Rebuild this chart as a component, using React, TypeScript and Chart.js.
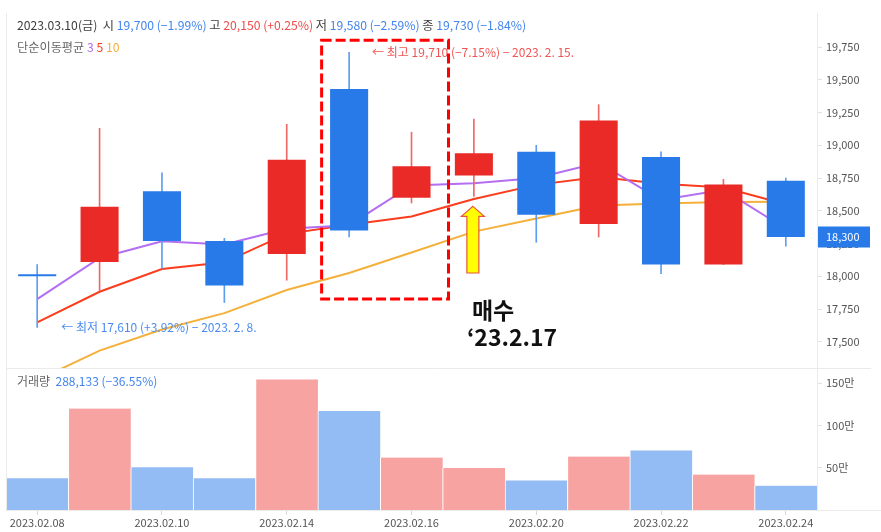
import React, { useEffect, useRef } from 'react';
import { Chart, registerables } from 'chart.js';

Chart.register(...registerables);

const FONT = "'Noto Sans CJK KR', 'Noto Sans', sans-serif";

const DATES = [
  '2023.02.08', '2023.02.09', '2023.02.10', '2023.02.13', '2023.02.14', '2023.02.15', '2023.02.16',
  '2023.02.17', '2023.02.20', '2023.02.21', '2023.02.22', '2023.02.23', '2023.02.24',
];
const OPEN = [18000, 18110, 18650, 18270, 18170, 19430, 18600, 18770, 18950, 18400, 18910, 18090, 18730];
const HIGH = [18090, 19130, 18790, 18290, 19160, 19710, 19100, 19200, 19000, 19310, 18950, 18740, 18750];
const LOW = [17610, 17890, 18060, 17800, 17970, 18300, 18560, 18610, 18260, 18300, 18020, 18090, 18230];
const CLOSE = [18000, 18530, 18270, 17930, 18890, 18350, 18840, 18940, 18470, 19190, 18090, 18700, 18300];
const MA3 = [17826, 18140, 18267, 18243, 18363, 18390, 18693, 18710, 18750, 18867, 18583, 18660, 18363];
const MA5 = [17648, 17882, 18056, 18107, 18324, 18394, 18456, 18590, 18698, 18758, 18706, 18678, 18550];
const MA10 = [17207, 17433, 17594, 17719, 17895, 18025, 18182, 18341, 18442, 18541, 18555, 18568, 18570];
const VOLUME = [375000, 1200000, 505000, 375000, 1545000, 1170000, 620000, 496000, 350000, 633000, 705000, 420000, 288133];
const PRICE_TICKS = [17500, 17750, 18000, 18250, 18500, 18750, 19000, 19250, 19500, 19750];
const VOLUME_TICKS = [500000, 1000000, 1500000];

const RED = '#ea2a26';
const BLUE = '#287ae8';
const RED_WICK = '#ef6868';
const BLUE_WICK = '#5e9def';
const RED_VOL = '#f6a3a2';
const BLUE_VOL = '#93bbf4';
const TXT_BLUE = '#4485ec';
const TXT_RED = '#ee4a4a';
const TXT_DARK = '#3c3c3c';
const TXT_GREY = '#666666';

const isUp = CLOSE.map((c, i) => c > OPEN[i]);

function segs(ctx: CanvasRenderingContext2D, x: number, y: number, parts: [string, string][]) {
  let cx = x;
  for (const [t, c] of parts) {
    ctx.fillStyle = c;
    ctx.fillText(t, cx, y);
    cx += ctx.measureText(t).width;
  }
}

const overlay = {
  id: 'overlay',
  afterDraw(chart: any) {
    const { ctx, scales } = chart;
    const xs = scales.x;
    const ys = scales.y;
    const yv = scales.yv;
    ctx.save();
    // frame lines
    ctx.strokeStyle = '#ebebeb';
    ctx.lineWidth = 1;
    ctx.beginPath();
    ctx.moveTo(6.5, ys.top);
    ctx.lineTo(6.5, yv.bottom);
    ctx.moveTo(6, Math.round(ys.bottom) + 0.5);
    ctx.lineTo(871, Math.round(ys.bottom) + 0.5);
    ctx.moveTo(xs.right, Math.round(yv.bottom) + 0.5);
    ctx.lineTo(881, Math.round(yv.bottom) + 0.5);
    ctx.stroke();

    ctx.textBaseline = 'middle';
    ctx.textAlign = 'left';
    // header
    ctx.font = `12.2px ${FONT}`;
    segs(ctx, 17, 25, [
      ['2023.03.10(금)  ', TXT_DARK],
      ['시 ', TXT_DARK],
      ['19,700 (−1.99%) ', TXT_BLUE],
      ['고 ', TXT_DARK],
      ['20,150 (+0.25%) ', TXT_RED],
      ['저 ', TXT_DARK],
      ['19,580 (−2.59%) ', TXT_BLUE],
      ['종 ', TXT_DARK],
      ['19,730 (−1.84%)', TXT_BLUE],
    ]);
    segs(ctx, 17, 47, [
      ['단순이동평균 ', TXT_GREY],
      ['3 ', '#b46ef2'],
      ['5 ', '#fb3d1d'],
      ['10', '#f4b03a'],
    ]);
    ctx.font = `12px ${FONT}`;
    segs(ctx, 17, 381, [
      ['거래량  ', TXT_GREY],
      ['288,133 (−36.55%)', TXT_BLUE],
    ]);

    // high / low annotations
    const x5 = xs.getPixelForValue(5);
    const x6 = xs.getPixelForValue(6);
    const x7 = xs.getPixelForValue(7);
    const x0 = xs.getPixelForValue(0);
    ctx.font = `12px ${FONT}`;
    ctx.fillStyle = '#f05555';
    ctx.fillText('← 최고 19,710 (−7.15%) − 2023. 2. 15.', x5 + 23, ys.getPixelForValue(HIGH[5]));
    ctx.fillStyle = '#4a8cf0';
    ctx.fillText('← 최저 17,610 (+3.92%) − 2023. 2. 8.', x0 + 24, ys.getPixelForValue(LOW[0]));

    // current price tag
    const py = ys.getPixelForValue(CLOSE[CLOSE.length - 1]);
    ctx.fillStyle = BLUE;
    ctx.fillRect(xs.right + 1, py - 10.5, 52, 21);
    ctx.fillStyle = '#ffffff';
    ctx.font = `11px ${FONT}`;
    ctx.fillText('18,300', 826, py);

    // dashed box
    const top = ys.getPixelForValue(HIGH[5]) - 12;
    ctx.strokeStyle = '#ff0000';
    ctx.lineWidth = 3;
    ctx.setLineDash([10, 4]);
    ctx.strokeRect(x5 - 27.5, top, x6 + 37 - (x5 - 27.5), 299 - top);
    ctx.setLineDash([]);

    // arrow
    const tipY = ys.getPixelForValue(LOW[7]) + 10;
    const ax = x7 - 1;
    ctx.beginPath();
    ctx.moveTo(ax, tipY);
    ctx.lineTo(ax + 11.5, tipY + 10);
    ctx.lineTo(ax + 6, tipY + 10);
    ctx.lineTo(ax + 6, 273);
    ctx.lineTo(ax - 6, 273);
    ctx.lineTo(ax - 6, tipY + 10);
    ctx.lineTo(ax - 11.5, tipY + 10);
    ctx.closePath();
    ctx.fillStyle = '#ffff00';
    ctx.fill();
    ctx.strokeStyle = '#e8553a';
    ctx.lineWidth = 1.2;
    ctx.stroke();

    // buy label
    ctx.fillStyle = '#111111';
    ctx.font = `bold 23px ${FONT}`;
    ctx.textBaseline = 'alphabetic';
    ctx.fillText('매수', ax - 1, 319);
    ctx.fillText('‘23.2.17', ax - 6, 346);
    ctx.restore();
  },
};

export default function App() {
  const ref = useRef<HTMLCanvasElement>(null);
  useEffect(() => {
    document.body.style.margin = '0';
    const canvas = ref.current!;
    const chart = new Chart(canvas, {
      type: 'bar',
      data: {
        labels: DATES,
        datasets: [
          {
            type: 'bar',
            label: 'body',
            data: OPEN.map((o, i) => [o, CLOSE[i]]) as any,
            backgroundColor: isUp.map((u) => (u ? RED : BLUE)),
            yAxisID: 'y',
            barPercentage: 0.61,
            categoryPercentage: 1,
            grouped: false,
            minBarLength: 2,
            order: 0,
          },
          {
            type: 'bar',
            label: 'wick',
            data: LOW.map((l, i) => [l, HIGH[i]]) as any,
            backgroundColor: isUp.map((u) => (u ? RED_WICK : BLUE_WICK)),
            yAxisID: 'y',
            barThickness: 1,
            grouped: false,
            order: 1,
          },
          {
            type: 'line',
            label: 'MA3',
            data: MA3,
            borderColor: '#b46ef2',
            borderWidth: 2,
            pointRadius: 0,
            yAxisID: 'y',
            order: 2,
          },
          {
            type: 'line',
            label: 'MA5',
            data: MA5,
            borderColor: '#fb3d1d',
            borderWidth: 2,
            pointRadius: 0,
            yAxisID: 'y',
            order: 3,
          },
          {
            type: 'line',
            label: 'MA10',
            data: MA10,
            borderColor: '#f4b03a',
            borderWidth: 2,
            pointRadius: 0,
            yAxisID: 'y',
            order: 4,
          },
          {
            type: 'bar',
            label: 'volume',
            data: VOLUME,
            backgroundColor: isUp.map((u) => (u ? RED_VOL : BLUE_VOL)),
            borderColor: '#ffffff',
            borderWidth: { left: 1, right: 0, top: 0, bottom: 0 } as any,
            borderSkipped: false,
            yAxisID: 'yv',
            barPercentage: 1,
            categoryPercentage: 1,
            grouped: false,
            order: 5,
          },
        ],
      },
      options: {
        responsive: false,
        animation: false,
        devicePixelRatio: 1,
        layout: { padding: { left: 6, top: 13, right: 0, bottom: 0 } },
        plugins: { legend: { display: false }, tooltip: { enabled: false } },
        scales: {
          x: {
            type: 'category',
            offset: true,
            grid: {
              offset: false,
              drawOnChartArea: false,
              tickLength: 5,
              color: (c: any) => (c.index % 2 === 0 ? '#d8d8d8' : 'rgba(0,0,0,0)'),
            },
            border: { color: '#ebebeb' },
            ticks: {
              autoSkip: false,
              maxRotation: 0,
              padding: 1,
              color: '#555555',
              font: { size: 11, family: FONT },
              callback: (_v: any, i: number) => (i % 2 === 0 ? DATES[i] : ''),
            },
            afterFit: (s: any) => {
              s.height = 22;
            },
          },
          y: {
            type: 'linear',
            position: 'right',
            stack: 'panes',
            stackWeight: 355,
            min: 17300,
            max: 20010,
            afterBuildTicks: (s: any) => {
              s.ticks = PRICE_TICKS.map((v) => ({ value: v }));
            },
            grid: { drawOnChartArea: false, tickLength: 5, color: '#e3e3e3' },
            border: { color: '#ebebeb' },
            ticks: {
              padding: 4,
              color: '#555555',
              font: { size: 11, family: FONT },
              callback: (v: any) => Number(v).toLocaleString('en-US'),
            },
            afterFit: (s: any) => {
              s.width = 64;
            },
          },
          yv: {
            type: 'linear',
            position: 'right',
            stack: 'panes',
            stackWeight: 142,
            min: 0,
            max: 1680000,
            afterBuildTicks: (s: any) => {
              s.ticks = VOLUME_TICKS.map((v) => ({ value: v }));
            },
            grid: { drawOnChartArea: false, tickLength: 5, color: '#e3e3e3' },
            border: { color: '#ebebeb' },
            ticks: {
              padding: 4,
              color: '#555555',
              font: { size: 11, family: FONT },
              callback: (v: any) => `${Number(v) / 10000}만`,
            },
            afterFit: (s: any) => {
              s.width = 64;
            },
          },
        },
      } as any,
      plugins: [overlay],
    });
    return () => chart.destroy();
  }, []);
  return <canvas ref={ref} width={881} height={532} style={{ display: 'block', width: 881, height: 532 }} />;
}
